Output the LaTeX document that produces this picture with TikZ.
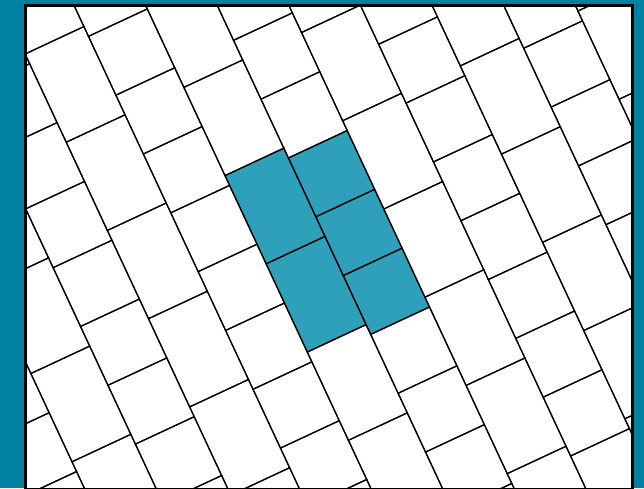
\documentclass[tikz,border=0pt]{standalone}
\definecolor{frameteal}{RGB}{0,129,162}
\definecolor{tilefill}{RGB}{47,160,186}
\tikzset{tileline/.style={draw=black,line width=1.2pt,line join=miter}}
\begin{document}
\begin{tikzpicture}[x=1pt,y=-1pt]
\useasboundingbox (0,0) rectangle (644,488);
\fill[frameteal] (0,0) rectangle (644,488);
\fill[white] (25.6,5.4) rectangle (632.5,489);
\begin{scope}
\clip (25.6,5.4) rectangle (632.5,489);
\begin{scope}[shift={(225.0,175.6)}, x={(0.9063pt,0.4226pt)}, y={(0.4226pt,-0.9063pt)}]
\fill[tilefill] (0,0) -- (64.9,0) -- (64.9,194.7) -- (0,194.7) -- cycle;
\fill[tilefill] (64.9,10.8) -- (129.8,10.8) -- (129.8,205.5) -- (64.9,205.5) -- cycle;
\foreach \k in {-6,-4,...,6}
  \foreach \m in {-4,...,6}
    \draw[tileline] ({\k*64.9},{\m*97.35}) -- ++(64.9,0) -- ++(0,97.35) -- ++(-64.9,0) -- cycle;
\foreach \k in {-5,-3,...,7}
  \foreach \m in {-6,...,8}
    \draw[tileline] ({\k*64.9},{10.8+\m*64.9}) -- ++(64.9,0) -- ++(0,64.9) -- ++(-64.9,0) -- cycle;
\end{scope}
\end{scope}
\draw[line width=3pt] (25.6,5.4) rectangle (632.5,489);
\end{tikzpicture}
\end{document}
